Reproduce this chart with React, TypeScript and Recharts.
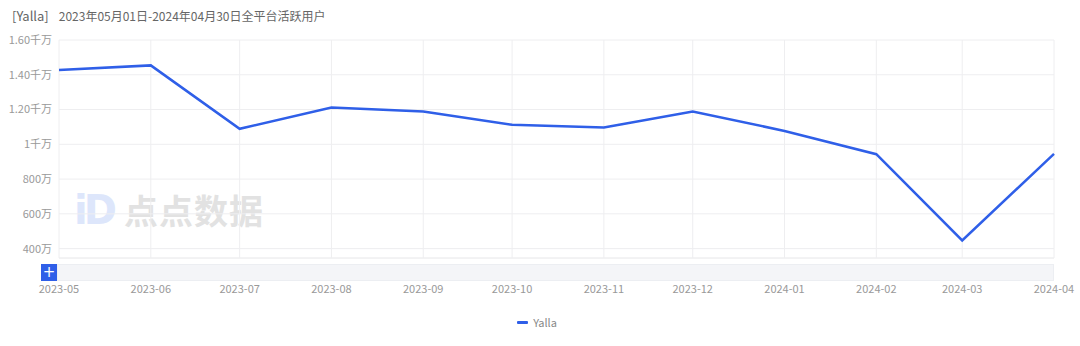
import React from 'react';
import { LineChart, Line, XAxis, YAxis, CartesianGrid, Legend } from 'recharts';

const months = ['2023-05', '2023-06', '2023-07', '2023-08', '2023-09', '2023-10', '2023-11', '2023-12', '2024-01', '2024-02', '2024-03', '2024-04'];
const yallaUsers = [14270000, 14540000, 10890000, 12120000, 11890000, 11120000, 10970000, 11890000, 10770000, 9430000, 4470000, 9450000];
const yTicks = [4000000, 6000000, 8000000, 10000000, 12000000, 14000000, 16000000];
const titleTag = '[Yalla]';
const titleText = '2023年05月01日-2024年04月30日全平台活跃用户';
const seriesName = 'Yalla';

const toTs = (m: string) => {
  const [y, mo] = m.split('-').map(Number);
  return Date.UTC(y, mo - 1, 1);
};
const xTicks = months.map(toTs);
const data = months.map((m, i) => ({ t: toTs(m), v: yallaUsers[i] }));

const fmtX = (t: number) => {
  const d = new Date(t);
  return `${d.getUTCFullYear()}-${String(d.getUTCMonth() + 1).padStart(2, '0')}`;
};
const fmtY = (v: number) => {
  if (v >= 10000000) {
    const q = v / 10000000;
    return (q === 1 ? '1' : q.toFixed(2)) + '千万';
  }
  return Math.round(v / 10000) + '万';
};

const FONT = '"Noto Sans CJK SC", "Noto Sans", sans-serif';
const BLUE = '#2f5fe8';

const LegendContent = () => (
  <div style={{ height: 28, display: 'flex', alignItems: 'center', justifyContent: 'center', fontFamily: FONT, fontSize: 11, color: '#888', paddingLeft: 20 }}>
    <span style={{ display: 'inline-block', width: 11, height: 3, background: BLUE, marginRight: 5, borderRadius: 1 }} />
    <span>{seriesName}</span>
  </div>
);

export default function App() {
  return (
    <div style={{ position: 'absolute', left: 0, top: 0, width: 1080, height: 346, background: '#fff', fontFamily: FONT }}>
      <div style={{ position: 'absolute', left: 12, top: 5, color: '#666', whiteSpace: 'pre', lineHeight: '18px' }}>
        <span style={{ fontSize: 13 }}>{titleTag}</span>
        <span style={{ fontSize: 12, marginLeft: 10 }}>{titleText}</span>
      </div>
      {/* watermark */}
      <div style={{ position: 'absolute', left: 74, top: 188, fontSize: 40, fontWeight: 900, color: '#dde6fb', fontFamily: 'DejaVu Sans, sans-serif', letterSpacing: -4, lineHeight: '44px' }}>iD</div>
      <div style={{ position: 'absolute', left: 124, top: 188, fontSize: 34, fontWeight: 700, color: '#e2e2e2', lineHeight: '44px', letterSpacing: 1 }}>点点数据</div>
      {/* slider */}
      <div style={{ position: 'absolute', left: 57, top: 264, width: 997, height: 17, background: '#f4f5f8', border: '1px solid #eceef2', boxSizing: 'border-box' }} />
      <div style={{ position: 'absolute', left: 41, top: 264, width: 16, height: 17, background: '#2f5fe8', color: '#fff', fontSize: 15, lineHeight: '16px', textAlign: 'center', fontFamily: 'DejaVu Sans, sans-serif' }}>+</div>
      <div style={{ position: 'absolute', left: 0, top: 0 }}>
        <LineChart width={1080} height={346} data={data} margin={{ top: 40, right: 26, left: 0, bottom: 10 }}>
          <CartesianGrid stroke="#eeeef0" />
          <XAxis
            dataKey="t"
            type="number"
            scale="time"
            domain={[xTicks[0], xTicks[xTicks.length - 1]]}
            ticks={xTicks}
            tickFormatter={fmtX}
            height={50}
            tickLine={false}
            axisLine={{ stroke: '#eeeef0' }}
            tickMargin={21}
            tick={{ fill: '#999', fontSize: 11, fontFamily: FONT }}
            interval={0}
          />
          <YAxis
            type="number"
            domain={[3460000, 16000000]}
            ticks={yTicks}
            tickFormatter={fmtY}
            width={59}
            tickLine={false}
            axisLine={false}
            tickMargin={1}
            tick={{ fill: '#999', fontSize: 11, fontFamily: FONT }}
            allowDataOverflow
          />
          <Legend verticalAlign="bottom" content={<LegendContent />} />
          <Line type="linear" dataKey="v" name={seriesName} stroke={BLUE} strokeWidth={2.5} dot={false} activeDot={false} isAnimationActive={false} />
        </LineChart>
      </div>
    </div>
  );
}
